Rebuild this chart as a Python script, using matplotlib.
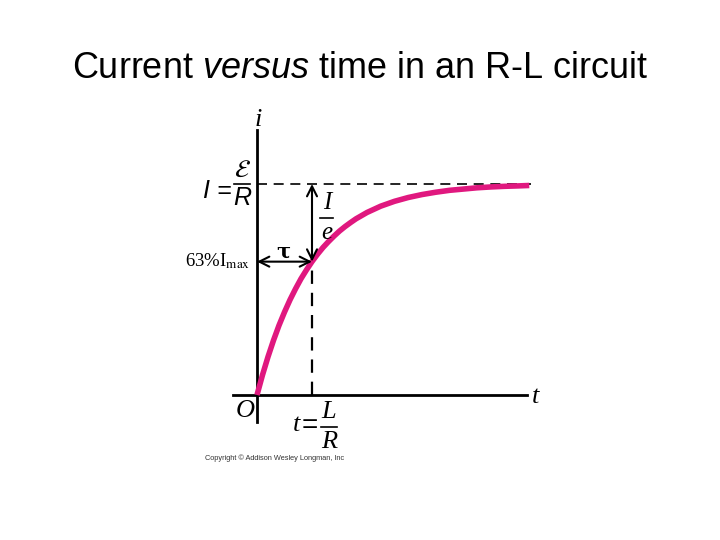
import matplotlib.pyplot as plt

plt.rcParams['mathtext.fontset'] = 'custom'
plt.rcParams['mathtext.it'] = 'Liberation Sans:italic'
plt.rcParams['mathtext.rm'] = 'Liberation Sans'

# time in units of tau = L/R, current as a fraction of I = E/R
t = [0, 0.1, 0.2, 0.3, 0.4, 0.5, 0.6, 0.7, 0.8, 0.9, 1.0, 1.1, 1.2, 1.3,
     1.4, 1.5, 1.6, 1.7, 1.8, 1.9, 2.0, 2.25, 2.5, 2.75, 3.0, 3.25, 3.5,
     3.75, 4.0, 4.25, 4.5, 4.75, 4.95]
i = [0, 0.095, 0.181, 0.259, 0.330, 0.393, 0.451, 0.503, 0.551, 0.593,
     0.632, 0.667, 0.699, 0.727, 0.753, 0.777, 0.798, 0.817, 0.835, 0.850,
     0.865, 0.895, 0.918, 0.936, 0.950, 0.961, 0.970, 0.976, 0.982, 0.986,
     0.989, 0.991, 0.993]

tau = 1.0
i_tau = 0.632
t_end = 4.98
pink = '#E0187F'

fig = plt.figure(figsize=(7.2, 5.4), dpi=100)
ax = fig.add_axes([0, 0, 1, 1])
# 55 px per tau, 211 px per I, origin at pixel (257, 395)
ax.set_xlim(-257 / 55, (720 - 257) / 55)
ax.set_ylim(-(540 - 395) / 211, 395 / 211)
ax.axis('off')

fig.text(0.5, 1 - 68 / 540, r'Current $\mathit{versus}$ time in an R-L circuit',
         ha='center', va='center', fontsize=25.9, family='Liberation Sans')

# axes
ax.plot([0, 0], [-0.128, 1.256], color='k', lw=2)
ax.plot([-0.436, 4.91], [0, 0], color='k', lw=2)

# asymptote and tau marker
ax.plot([0, t_end], [1, 1], color='k', lw=1.2, ls=(0, (6, 4)))
ax.plot([tau, tau], [0, i_tau], color='k', lw=1.6, ls=(0, (6, 4)))

ax.plot(t, i, color=pink, lw=4, solid_capstyle='butt', zorder=3)

arrow = dict(arrowstyle='<->', lw=1.5, color='k', shrinkA=0, shrinkB=0,
             mutation_scale=18)
ax.annotate('', xy=(0, i_tau), xytext=(tau, i_tau), arrowprops=arrow)
ax.annotate('', xy=(tau, i_tau), xytext=(tau, 1), arrowprops=arrow)

serif = 'Liberation Serif'
sans = 'Liberation Sans'


def frac(x, y, top, bottom, family, size, half=0.15, gap=0.068):
    # numerator, bar and denominator centred on (x, y) in data units
    ax.plot([x - half, x + half], [y, y], color='k', lw=1.2)
    ax.text(x, y + gap, top, family=family, style='italic', fontsize=size,
            ha='center', va='center', math_fontfamily='stix')
    ax.text(x, y - gap, bottom, family=family, style='italic', fontsize=size,
            ha='center', va='center')


ax.text(0.03, 1.305, 'i', style='italic', family=serif, fontsize=19,
        ha='center', va='center')
ax.text(5.07, -0.01, 't', style='italic', family=serif, fontsize=19,
        ha='center', va='center')
ax.text(-0.22, -0.075, 'O', style='italic', family=serif, fontsize=19,
        ha='center', va='center')
ax.text(0.47, 0.68, '\u03c4', family='DejaVu Serif', fontsize=15,
        fontweight='bold', ha='center', va='center')

# I = E / R
ax.text(-0.72, 0.965, 'I =', family=sans, style='italic', fontsize=18,
        ha='center', va='center')
frac(-0.27, 1.0, r'$\mathcal{E}$', 'R', sans, 18)

# I / e
frac(1.27, 0.84, 'I', 'e', serif, 18, half=0.12, gap=0.07)

# t = L / R
ax.text(0.72, -0.14, 't', family=serif, style='italic', fontsize=19,
        ha='center', va='center')
ax.text(0.96, -0.145, '=', family=sans, fontsize=20, ha='center',
        va='center')
frac(1.31, -0.152, 'L', 'R', serif, 19, half=0.14, gap=0.07)

ax.text(-0.12, i_tau, r'63%I$_{\mathrm{max}}$', fontsize=13.5, ha='right',
        va='center', family=serif, math_fontfamily='stix')

ax.text(-0.95, -0.30, 'Copyright \u00a9 Addison Wesley Longman, Inc',
        fontsize=5.3, ha='left', va='center', family=sans,
        color='#333333')

fig.savefig('out.png', dpi=100)
